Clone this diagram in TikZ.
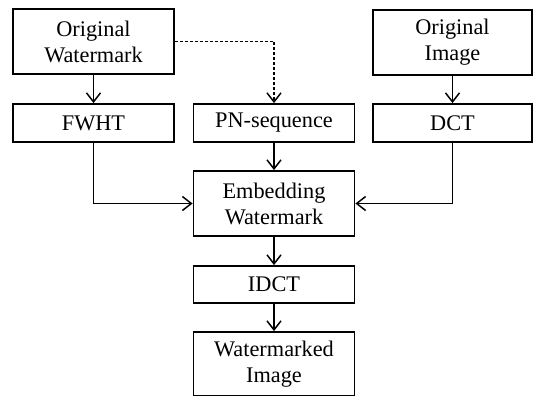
\documentclass[tikz,border=0pt]{standalone}
\usepackage{fontspec}
\setmainfont{Liberation Serif}
\usepackage{tikz}
\usetikzlibrary{arrows.meta}

\begin{document}
\begin{tikzpicture}[x=1pt,y=-1pt,
    blk/.style={draw=black,line width=1.8pt,minimum width=161pt,align=center,
                inner sep=0pt,font=\fontsize{22.3}{26}\selectfont},
    tall/.style={blk,minimum height=65pt},
    flat/.style={blk,minimum height=38pt},
    arr/.style={line width=1.6pt,-{Straight Barb[length=9pt,width=14pt,line width=1.5pt]}},
    dsh/.style={line width=1.3pt,dash pattern=on 3pt off 2pt}]
            % Frame
            \useasboundingbox (0,0) rectangle (533,396);
            % Blocks
            \node[tall] (wm)   at (93.5,41.5)  {Original\\Watermark};
            \node[flat] (fwht) at (93.5,123)   {FWHT};
            \node[flat] (pn)   at (274,123)    {PN-sequence};
            \node[tall,minimum width=159pt] (oi)  at (452.5,42.5) {Original\\Image};
            \node[flat,minimum width=159pt] (dct) at (452.5,123)  {DCT};
            \node[tall] (emb)  at (274,203.5)  {Embedding\\Watermark};
            \node[flat,minimum height=37pt] (idct) at (274,284.5) {IDCT};
            \node[tall,minimum height=64pt] (wmi)  at (274,364)   {Watermarked\\Image};
            % Connectors
            \draw[arr] (wm) -- (fwht);
            \draw[arr,dsh] (wm.east) -| (pn.north);
            \draw[arr] (oi) -- (dct);
            \draw[arr] (pn) -- (emb);
            \draw[arr] (fwht.south) |- (emb.west);
            \draw[arr] (dct.south) |- (emb.east);
            \draw[arr] (emb) -- (idct);
            \draw[arr] (idct) -- (wmi);
\end{tikzpicture}
\end{document}
